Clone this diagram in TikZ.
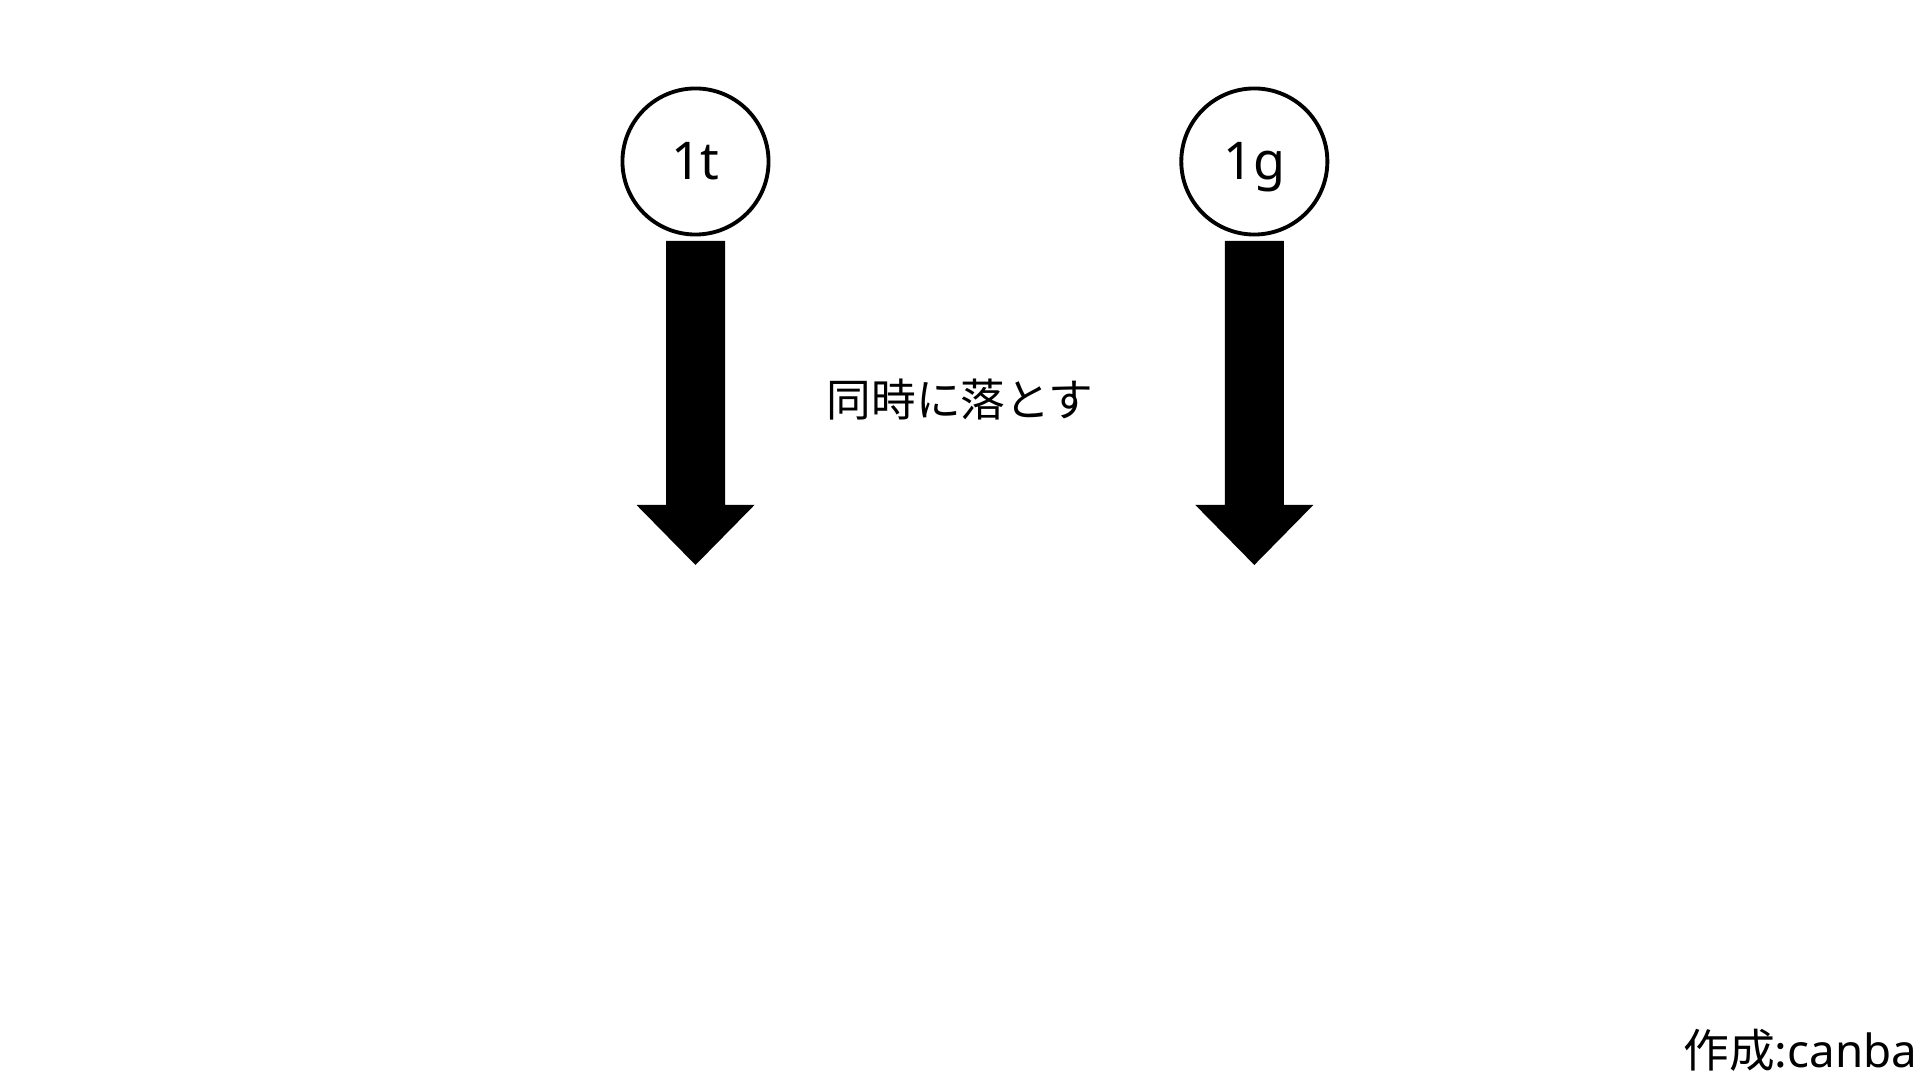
\documentclass[tikz,border=0pt]{standalone}
\usepackage{fontspec}
\setmainfont{Noto Sans CJK JP}
\newfontfamily\latinfont{Noto Sans}
\begin{document}
\begin{tikzpicture}[x=0.01cm, y=-0.01cm, node distance=5.585cm,
  main/.style = {draw, circle, line width=1.1pt, minimum size=1.46cm, inner sep=0pt, text height=13.9pt, text depth=3.5pt, font=\latinfont\fontsize{14.8}{17}\selectfont},
  drop/.style = {fill=black}]
        \useasboundingbox (0,0) rectangle (1920,1080);
        \node[main] (1t) at (695.5,161.5) {1t};
        \node[main] (1g) [right of=1t] {1g};
        % block arrows under the balls
        \foreach \b in {1t,1g}
          \fill[drop] (\b.south) ++(-29.5,4.5) -- ++(0,264) -- ++(-29.5,0) -- ++(59,60)
            -- ++(59,-60) -- ++(-29.5,0) -- ++(0,-264) -- cycle;
        \node[font=\fontsize{12.7}{15}\selectfont] (same) at (960,400) {同時に落とす};
        \node[anchor=base east, inner sep=0pt, font=\fontsize{13}{16}\selectfont] (credit) at (1918,1068) {作成:{\latinfont canba}};
      \end{tikzpicture}
\end{document}
